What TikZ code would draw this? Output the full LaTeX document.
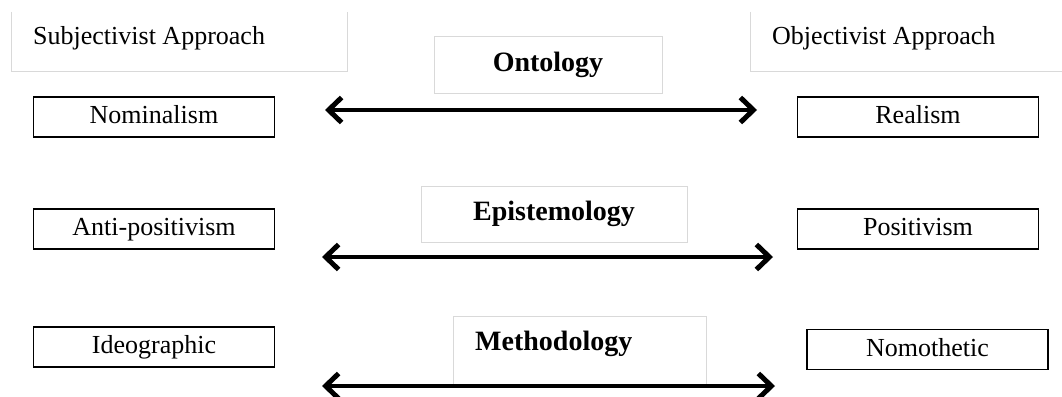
\documentclass[tikz,border=0pt]{standalone}
\usepackage{fontspec}
\setmainfont{Liberation Serif}
\usetikzlibrary{calc,arrows.meta}

\begin{document}
\begin{tikzpicture}[x=1pt,y=-1pt,
  term/.style={draw,line width=1.3pt,minimum width=241,minimum height=40,inner sep=0pt,
    text height=18pt,text depth=5pt,font=\fontsize{26}{30}\selectfont},
  soft/.style={draw=black!15,line width=1pt,inner sep=0pt},
  head/.style={font=\fontsize{28}{32}\selectfont\bfseries},
  side/.style={inner sep=0pt,font=\fontsize{26}{30}\selectfont},
  dbl/.style={{Straight Barb[length=13pt,width=25pt,line width=5pt]}-{Straight Barb[length=13pt,width=25pt,line width=5pt]},line width=4pt}]
\useasboundingbox (0,0) rectangle (1062,396);
\coordinate (O) at (0,0);
  % approach headings
  \node[inner sep=0pt,minimum width=335,minimum height=59] (S) at ($(O)+(179.5,41.5)$) {};
  \node[side,anchor=base west] (Stxt) at ($(O)+(33,45)$) {Subjectivist Approach};
  \node[inner sep=0pt,minimum width=277,minimum height=59] (J) at ($(O)+(889.5,41.5)$) {};
  \node[side,anchor=base west] (Jtxt) at ($(O)+(772,45)$) {Objectivist Approach};
  \coordinate (Jend) at ($(J.south east)+(40,0)$);
  \draw[draw=black!15,line width=1pt] (S.north west) -- (S.south west) -- (S.south east) -- (S.north east);
  \draw[draw=black!15,line width=1pt] (J.north west) -- (J.south west) -- (Jend);
  % left column
  \node[term] (L1) at ($(O)+(154,117)$) {Nominalism};
  \node[term] (L2) at ($(L1)+(0,112)$) {Anti-positivism};
  \node[term] (L3) at ($(L2)+(0,118)$) {Ideographic};
  % right column
  \node[term] (R1) at ($(O)+(918,117)$) {Realism};
  \node[term] (R2) at ($(R1)+(0,112)$) {Positivism};
  \node[term] (R3) at ($(R2)+(9.5,120.5)$) {Nomothetic};
  % middle
  \node[soft,head,minimum width=228,minimum height=56] (C1) at ($(O)+(548,65)$) {Ontology};
  \node[soft,head,minimum width=266,minimum height=56] (C2) at ($(O)+(554,214)$) {Epistemology};
  \node[soft,minimum width=253,minimum height=69] (C3) at ($(O)+(579.5,350.5)$) {};
  \node[head,inner sep=0pt,anchor=base west] (C3txt) at ($(O)+(475,350)$) {Methodology};
  % arrows
  \coordinate (A1l) at ($(O)+(325,110)$);
  \coordinate (A1r) at ($(O)+(757,110)$);
  \coordinate (A2l) at ($(O)+(322,257)$);
  \coordinate (A2r) at ($(O)+(773,257)$);
  \coordinate (A3l) at ($(O)+(322,386)$);
  \coordinate (A3r) at ($(O)+(775,386)$);
  \path[dbl] (A1l) edge (A1r) (A2l) edge (A2r) (A3l) edge (A3r);
\end{tikzpicture}
\end{document}
